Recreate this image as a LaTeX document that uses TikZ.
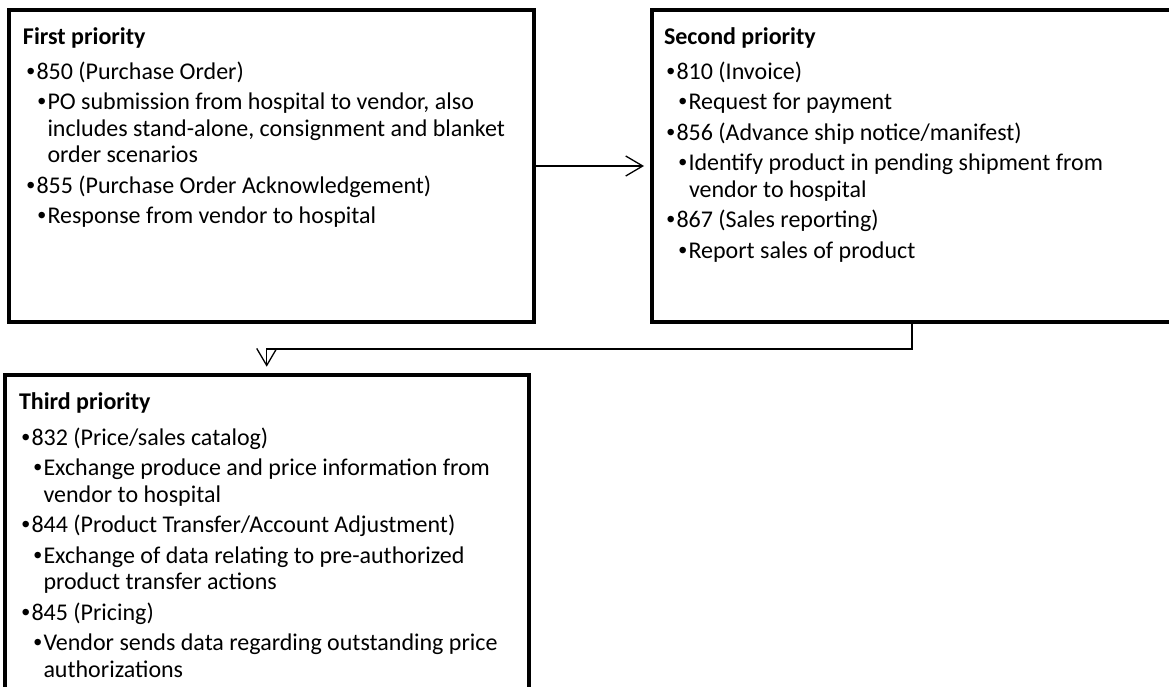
\documentclass[tikz,border=0pt]{standalone}
\usepackage{fontspec}
\setmainfont{Carlito}
\newfontfamily\bulfont{Liberation Sans}
\usetikzlibrary{arrows.meta}
\newcommand{\bul}{\makebox[9.5pt][l]{\kern-0.5pt{\bulfont\textbullet}}}
\begin{document}
\begin{tikzpicture}[x=1pt,y=-1pt,
  box/.style={draw=black, line width=4pt, inner sep=0pt, fill=none},
  txt/.style={anchor=base west, inner sep=0pt, outer sep=0pt, font=\fontsize{24pt}{26.5pt}\selectfont},
  hd/.style={txt, font=\fontsize{24pt}{26.5pt}\selectfont\bfseries},
  conn/.style={draw=black, line width=1.3pt, -{Straight Barb[length=17pt,width=20pt,line width=1.3pt]}}]
\clip (0,0) rectangle (1169,686);
\fill[white] (0,0) rectangle (1169,686);
% boxes
\node[box, minimum width=525pt, minimum height=312pt] (B1) at (271.5,166) {};
\node[box, minimum width=548.5pt, minimum height=312pt] (B2) at (925.75,166) {};
\node[box, minimum width=524.3pt, minimum height=345pt] (B3) at (266.85,547.5) {};
% connectors
\draw[conn, shorten >=5.5pt] (B1.east) -- (B2.west);
\draw[conn, shorten >=6.3pt] ([xshift=262.5pt]B2.south west) -- ++(0,25) -| ([xshift=264pt]B3.north west);
% box 1 text
\node[hd] (h1) at (23,44) {First priority};
\node[txt] (a1) at (27,79) {\bul 850 (Purchase Order)};
\node[txt] (a2) at (38,109.5) {\bul PO submission from hospital to vendor, also};
\node[txt] (a3) at (47.5,136) {includes stand-alone, consignment and blanket};
\node[txt] (a4) at (47.5,162.5) {order scenarios};
\node[txt] (a5) at (27,193) {\bul 855 (Purchase Order Acknowledgement)};
\node[txt] (a6) at (38,223.5) {\bul Response from vendor to hospital};
% box 2 text
\node[hd] (h2) at (664,44) {Second priority};
\node[txt] (b1) at (667,79) {\bul 810 (Invoice)};
\node[txt] (b2) at (679,109.5) {\bul Request for payment};
\node[txt] (b3) at (667,140) {\bul 856 (Advance ship notice/manifest)};
\node[txt] (b4) at (679,170.5) {\bul Identify product in pending shipment from};
\node[txt] (b5) at (689,197) {vendor to hospital};
\node[txt] (b6) at (667,227.5) {\bul 867 (Sales reporting)};
\node[txt] (b7) at (679,258) {\bul Report sales of product};
% box 3 text
\node[hd] (h3) at (19,409) {Third priority};
\node[txt] (c1) at (22,445) {\bul 832 (Price/sales catalog)};
\node[txt] (c2) at (34,475.5) {\bul Exchange produce and price information from};
\node[txt] (c3) at (43.5,502) {vendor to hospital};
\node[txt] (c4) at (22,532.5) {\bul 844 (Product Transfer/Account Adjustment)};
\node[txt] (c5) at (34,563) {\bul Exchange of data relating to pre-authorized};
\node[txt] (c6) at (43.5,589.5) {product transfer actions};
\node[txt] (c7) at (22,620) {\bul 845 (Pricing)};
\node[txt] (c8) at (34,650.5) {\bul Vendor sends data regarding outstanding price};
\node[txt] (c9) at (43.5,677) {authorizations};
\end{tikzpicture}
\end{document}
